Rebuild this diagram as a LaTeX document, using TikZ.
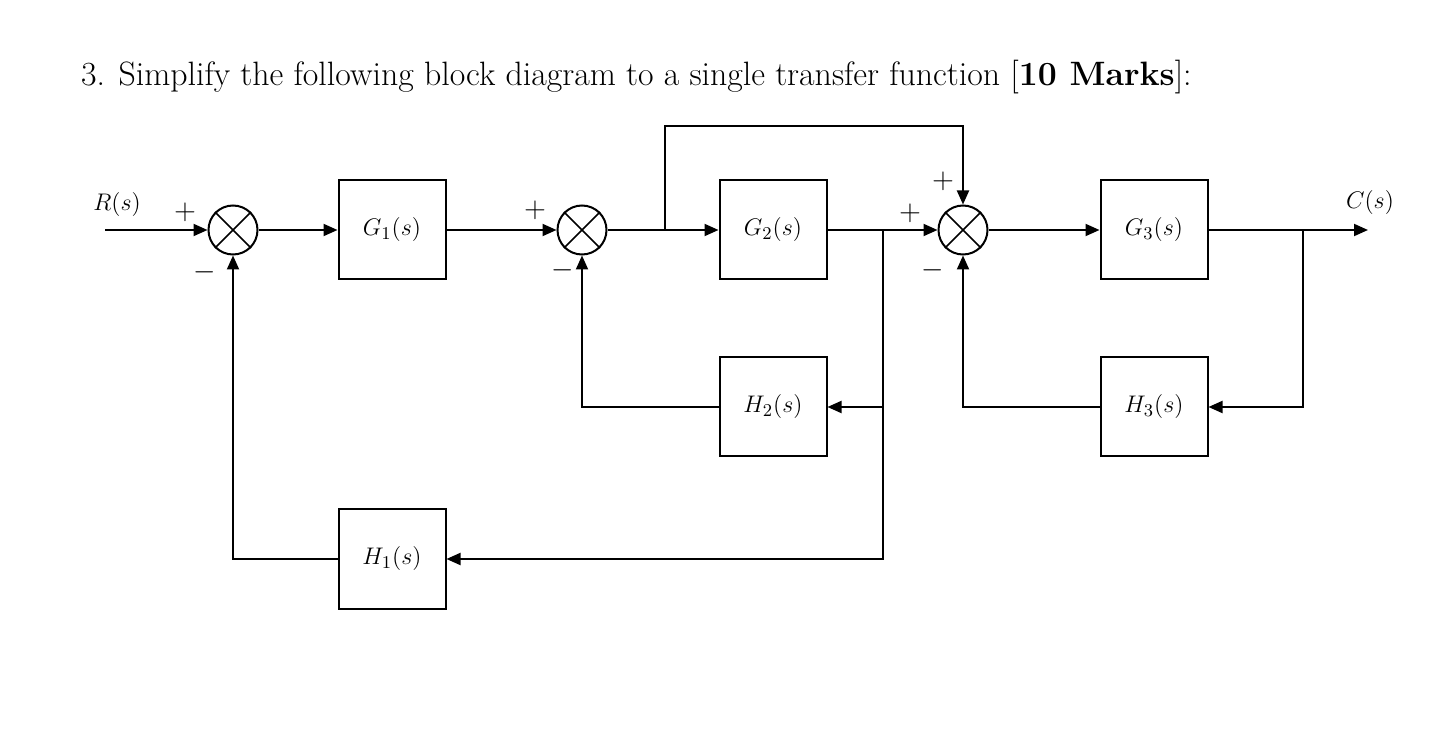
\documentclass[tikz,border=0pt]{standalone}
\usepackage{amsmath}
\usepackage{amsfonts}
\usetikzlibrary{arrows.meta}
\begin{document}
\begin{tikzpicture}[x=0.5pt, y=-0.5pt, line width=1pt, >={Triangle[length=7pt,width=6pt]},
    block/.style = {draw, minimum width=53.5pt, minimum height=49.5pt, font=\fontsize{12.5}{15}\selectfont},
    sum/.style = {draw, circle, minimum size=24.5pt, inner sep=0pt},
    lbl/.style = {font=\fontsize{12.5}{15}\selectfont, inner sep=0pt},
    sgn/.style = {font=\fontsize{14}{16}\selectfont, inner sep=0pt}]
    \useasboundingbox (0,0) rectangle (1442,754);
    \node[anchor=base west, inner sep=0pt, font=\fontsize{16.9}{20}\selectfont] (title) at (80,86)
        {3. Simplify the following block diagram to a single transfer function [\textbf{10 Marks}]:};
    \node[sum] (s1) at (233,230) {};
    \node[sum] (s2) at (582,230) {};
    \node[sum] (s3) at (963,230) {};
    \foreach \s in {s1,s2,s3} {
        \draw[line width=0.8pt] (\s.north west) -- (\s.south east);
        \draw[line width=0.8pt] (\s.north east) -- (\s.south west);
    }
    \node[block] (g1) at (392,230) {$G_1(s)$};
    \node[block] (g2) at (773,230) {$G_2(s)$};
    \node[block] (g3) at (1154,230) {$G_3(s)$};
    \node[block] (h2) at (773,407) {$H_2(s)$};
    \node[block] (h3) at (1154,407) {$H_3(s)$};
    \node[block] (h1) at (392,559) {$H_1(s)$};
    \node[lbl] (r) at (117,205) {$R(s)$};
    \node[lbl] (c) at (1370,203) {$C(s)$};
    \coordinate (in) at (105,230);
    \coordinate (out) at (1368,230);
    \coordinate (b1) at (665,230);
    \coordinate (b2) at (883,230);
    \coordinate (b3) at (1303,230);
    \node[sgn] (p1) at (185,212) {$+$};
    \node[sgn] (m1) at (205,272) {$-$};
    \node[sgn] (p2) at (535,210) {$+$};
    \node[sgn] (m2) at (563,270) {$-$};
    \node[sgn] (p3) at (910,213) {$+$};
    \node[sgn] (p4) at (943,181) {$+$};
    \node[sgn] (m3) at (933,270) {$-$};
    \draw[->] (in) -- (s1.west);
    \draw[->] (s1.east) -- (g1.west);
    \draw[->] (g1.east) -- (s2.west);
    \draw[->] (s2.east) -- (g2.west);
    \draw[->] (g2.east) -- (s3.west);
    \draw[->] (s3.east) -- (g3.west);
    \draw[->] (g3.east) -- (out);
    \draw[->] (b1) |- (665,126) -| (s3.north);
    \draw[->] (b2) |- (h2.east);
    \draw[->] (b2) |- (h1.east);
    \draw[->] (b3) |- (h3.east);
    \draw[->] (h2.west) -| (s2.south);
    \draw[->] (h3.west) -| (s3.south);
    \draw[->] (h1.west) -| (s1.south);
\end{tikzpicture}
\end{document}
